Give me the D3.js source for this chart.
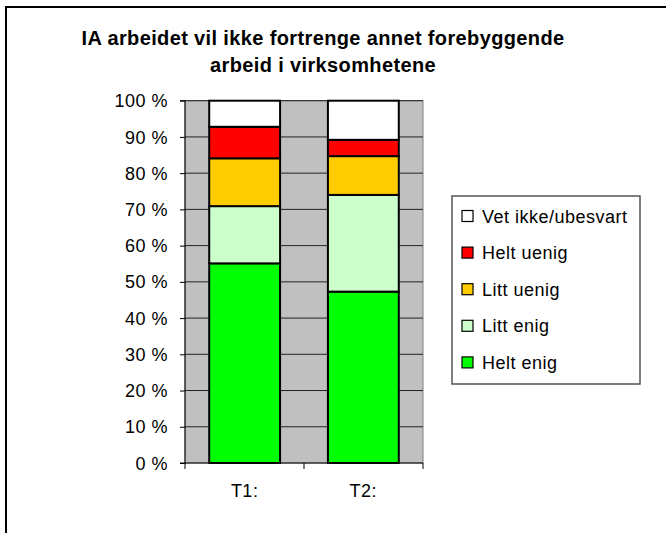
<!DOCTYPE html>
<html><head><meta charset="utf-8">
<script src="https://cdn.jsdelivr.net/npm/d3@7"></script>
<style>body{margin:0;background:#fff}svg{display:block;font-family:"Liberation Sans",Arial,sans-serif}</style>
</head><body>
<svg id="c" width="666" height="533"></svg>
<script>
const categories = ["T1:", "T2:"];
const seriesNames = ["Helt enig", "Litt enig", "Litt uenig", "Helt uenig", "Vet ikke/ubesvart"];
const seriesColors = ["#00FF00", "#CCFFCC", "#FFCC00", "#FF0000", "#FFFFFF"];
const helt_enig = [55.1, 47.3];
const litt_enig = [15.8, 26.7];
const litt_uenig = [13.2, 10.7];
const helt_uenig = [8.7, 4.5];
const vet_ikke = [7.2, 10.8];
const yTicks = [0,10,20,30,40,50,60,70,80,90,100];
const titleLines = ["IA arbeidet vil ikke fortrenge annet forebyggende", "arbeid i virksomhetene"];

const values = [helt_enig, litt_enig, litt_uenig, helt_uenig, vet_ikke];
const table = categories.map((c,i)=>{const o={cat:c}; seriesNames.forEach((s,j)=>o[s]=values[j][i]); return o;});
const stack = d3.stack().keys(seriesNames)(table);

const svg = d3.select("#c");
svg.append("rect").attr("x",6).attr("y",7).attr("width",680).attr("height",560)
  .attr("fill","#fff").attr("stroke","#000").attr("stroke-width",2);

const L=185, R=423, T=100.7, B=463;
const x = d3.scaleBand().domain(categories).range([L,R]).paddingInner(0.403).paddingOuter(0.204);
const y = d3.scaleLinear().domain([0,100]).range([B,T]);

svg.append("rect").attr("x",L).attr("y",T).attr("width",R-L).attr("height",B-T)
  .attr("fill","#C0C0C0").attr("stroke","#808080").attr("stroke-width",1);

svg.append("g").selectAll("line").data(yTicks.filter(d=>d>0)).join("line")
  .attr("x1",L).attr("x2",R).attr("y1",d=>y(d)).attr("y2",d=>y(d))
  .attr("stroke","#222").attr("stroke-width",1);

svg.append("g").selectAll("g").data(stack).join("g")
  .attr("fill",(d,i)=>seriesColors[i])
  .selectAll("rect").data(d=>d).join("rect")
  .attr("x",d=>x(d.data.cat)).attr("width",x.bandwidth())
  .attr("y",d=>y(d[1])).attr("height",d=>y(d[0])-y(d[1]))
  .attr("stroke","#000").attr("stroke-width",2);

const FS = 18, LS = 0.5;

const yAxis = d3.axisLeft(y).tickValues(yTicks).tickSize(5).tickPadding(12).tickFormat(d=>d+" %");
const gy = svg.append("g").attr("transform",`translate(${L},0)`).call(yAxis);
gy.select(".domain").attr("stroke","#000").attr("d",`M-5,${T}H0V${B}H-5`);
gy.selectAll("text").attr("font-size",FS).attr("fill","#000").attr("letter-spacing",LS)
  .attr("font-family","Liberation Sans, Arial, sans-serif").attr("dy","0.34em");
gy.selectAll(".tick line").attr("stroke","#000");

const gx = svg.append("g").attr("transform",`translate(0,${B})`);
gx.append("line").attr("x1",L).attr("x2",R).attr("y1",0).attr("y2",0).attr("stroke","#000");
const bounds = [L, (x("T1:")+x.bandwidth()+x("T2:"))/2, R];
gx.selectAll("line.t").data(bounds).join("line").attr("class","t")
  .attr("x1",d=>d).attr("x2",d=>d).attr("y1",0).attr("y2",6).attr("stroke","#000");
gx.selectAll("text").data(categories).join("text")
  .attr("x",d=>x(d)+x.bandwidth()/2).attr("y",34).attr("text-anchor","middle")
  .attr("font-size",FS).attr("letter-spacing",LS).text(d=>d);

// title
const tt = svg.append("g").selectAll("text").data(titleLines).join("text")
  .attr("x",323).attr("y",(d,i)=>45+i*26.5).attr("text-anchor","middle")
  .attr("font-size",20).attr("font-weight","bold").text(d=>d);
const tw = tt.nodes()[0].getComputedTextLength();
const TLS = Math.max(0,(483 - tw)/titleLines[0].length);
tt.attr("letter-spacing",TLS);

// legend
svg.append("rect").attr("x",452).attr("y",196).attr("width",188).attr("height",188)
  .attr("fill","#fff").attr("stroke","#555").attr("stroke-width",1.5);
const legOrder = [4,3,2,1,0];
const lg = svg.append("g").selectAll("g").data(legOrder).join("g")
  .attr("transform",(d,i)=>`translate(462,${216+i*36.6})`);
lg.append("rect").attr("x",0).attr("y",-5.5).attr("width",11).attr("height",11)
  .attr("fill",d=>seriesColors[d]).attr("stroke","#000").attr("stroke-width",1.2);
lg.append("text").attr("x",20).attr("y",6.5).attr("font-size",FS).attr("letter-spacing",LS).text(d=>seriesNames[d]);
</script>
</body></html>
